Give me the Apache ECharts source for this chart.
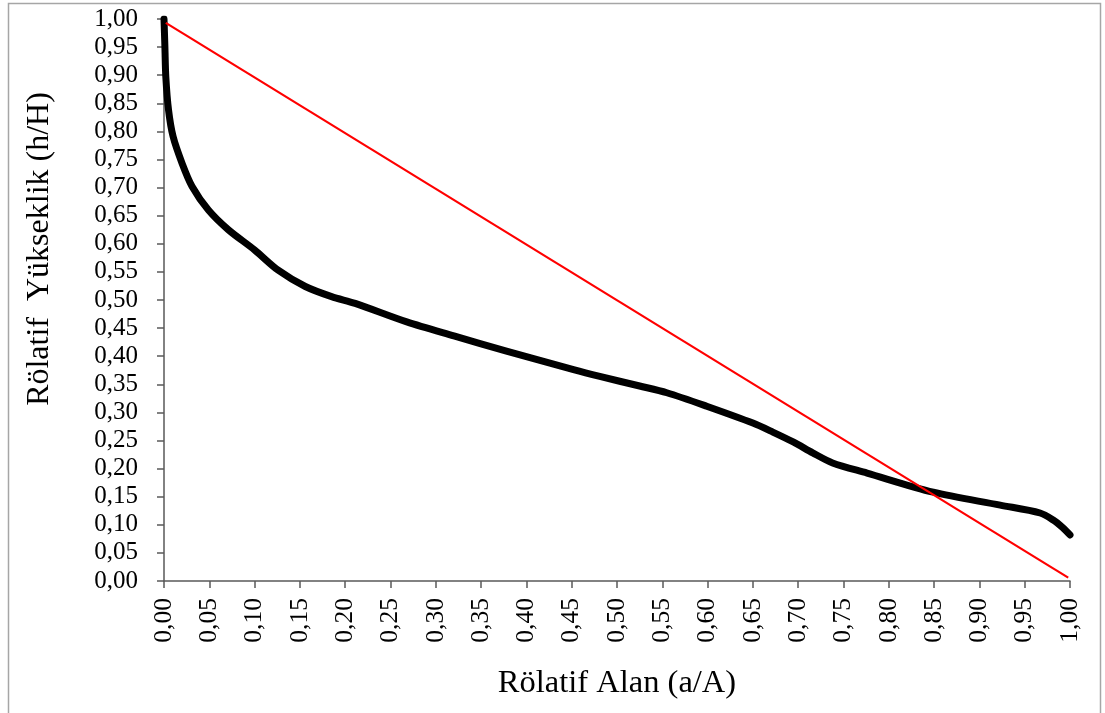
<!DOCTYPE html>
<html>
<head>
<meta charset="utf-8">
<script src="https://cdn.jsdelivr.net/npm/echarts@6/dist/echarts.min.js"></script>
<style>html,body{margin:0;padding:0;background:#fff}#c{width:1105px;height:713px}</style>
</head>
<body>
<div id="c"></div>
<script>
// Hypsometric curve (relative area vs relative height)
const curveX = [0, 0.001, 0.002, 0.005, 0.010, 0.020, 0.031, 0.049, 0.071, 0.100, 0.126, 0.156, 0.185, 0.211, 0.268, 0.320, 0.378, 0.452, 0.481, 0.525, 0.555, 0.599, 0.650, 0.672, 0.695, 0.716, 0.738, 0.776, 0.849, 0.923, 0.967, 0.981, 0.992, 1.000];
const curveY = [1.000, 0.950, 0.897, 0.838, 0.791, 0.743, 0.702, 0.660, 0.625, 0.589, 0.553, 0.524, 0.506, 0.494, 0.461, 0.436, 0.409, 0.376, 0.364, 0.347, 0.335, 0.311, 0.281, 0.265, 0.247, 0.228, 0.210, 0.192, 0.158, 0.135, 0.121, 0.109, 0.095, 0.082];
// Reference diagonal
const refX = [0.002, 0.998];
const refY = [0.993, 0.006];

const xTitle = 'Rölatif Alan (a/A)';
const yTitle = 'Rölatif  Yükseklik (h/H)';

const fmt = v => v.toFixed(2).replace('.', ',');
const FONT = '"Liberation Serif", "Times New Roman", serif';

const chart = echarts.init(document.getElementById('c'));
chart.setOption({
  animation: false,
  backgroundColor: '#fff',
  grid: { left: 164, right: 35, top: 19, bottom: 132 },
  graphic: [{
    type: 'rect', silent: true, z: -1,
    shape: { x: 8.5, y: 3.5, width: 1092, height: 730 },
    style: { fill: 'none', stroke: '#a6a6a6', lineWidth: 1.5 }
  }, {
    type: 'text', silent: true,
    x: 40, y: 249, rotation: Math.PI / 2,
    style: { text: yTitle, fontFamily: FONT, fontSize: 32, fill: '#000', align: 'center', verticalAlign: 'middle' }
  }],
  xAxis: {
    type: 'value', min: 0, max: 1, interval: 0.05,
    name: xTitle, nameLocation: 'middle', nameGap: 86,
    nameTextStyle: { fontFamily: FONT, fontSize: 32.5, color: '#000' },
    axisLine: { lineStyle: { color: '#595959', width: 1.5 } },
    axisTick: { show: true, length: 7, lineStyle: { color: '#595959', width: 1.5 } },
    axisLabel: { rotate: 90, margin: 17, formatter: fmt, fontFamily: FONT, fontSize: 25.5, color: '#000' },
    splitLine: { show: false }
  },
  yAxis: {
    type: 'value', min: 0, max: 1, interval: 0.05,
    axisLine: { show: true, lineStyle: { color: '#595959', width: 1.5 } },
    axisTick: { show: true, length: 7, lineStyle: { color: '#595959', width: 1.5 } },
    axisLabel: { margin: 26, formatter: fmt, fontFamily: FONT, fontSize: 25, color: '#000' },
    splitLine: { show: false }
  },
  series: [{
    type: 'line',
    data: refX.map((x, i) => [x, refY[i]]),
    showSymbol: false,
    lineStyle: { color: '#ff0000', width: 2.2 },
    z: 3
  }, {
    type: 'line',
    data: curveX.map((x, i) => [x, curveY[i]]),
    showSymbol: false,
    smooth: 0.3,
    lineStyle: { color: '#000', width: 7, cap: 'round', join: 'round' },
    z: 2
  }]
});
</script>
</body>
</html>
